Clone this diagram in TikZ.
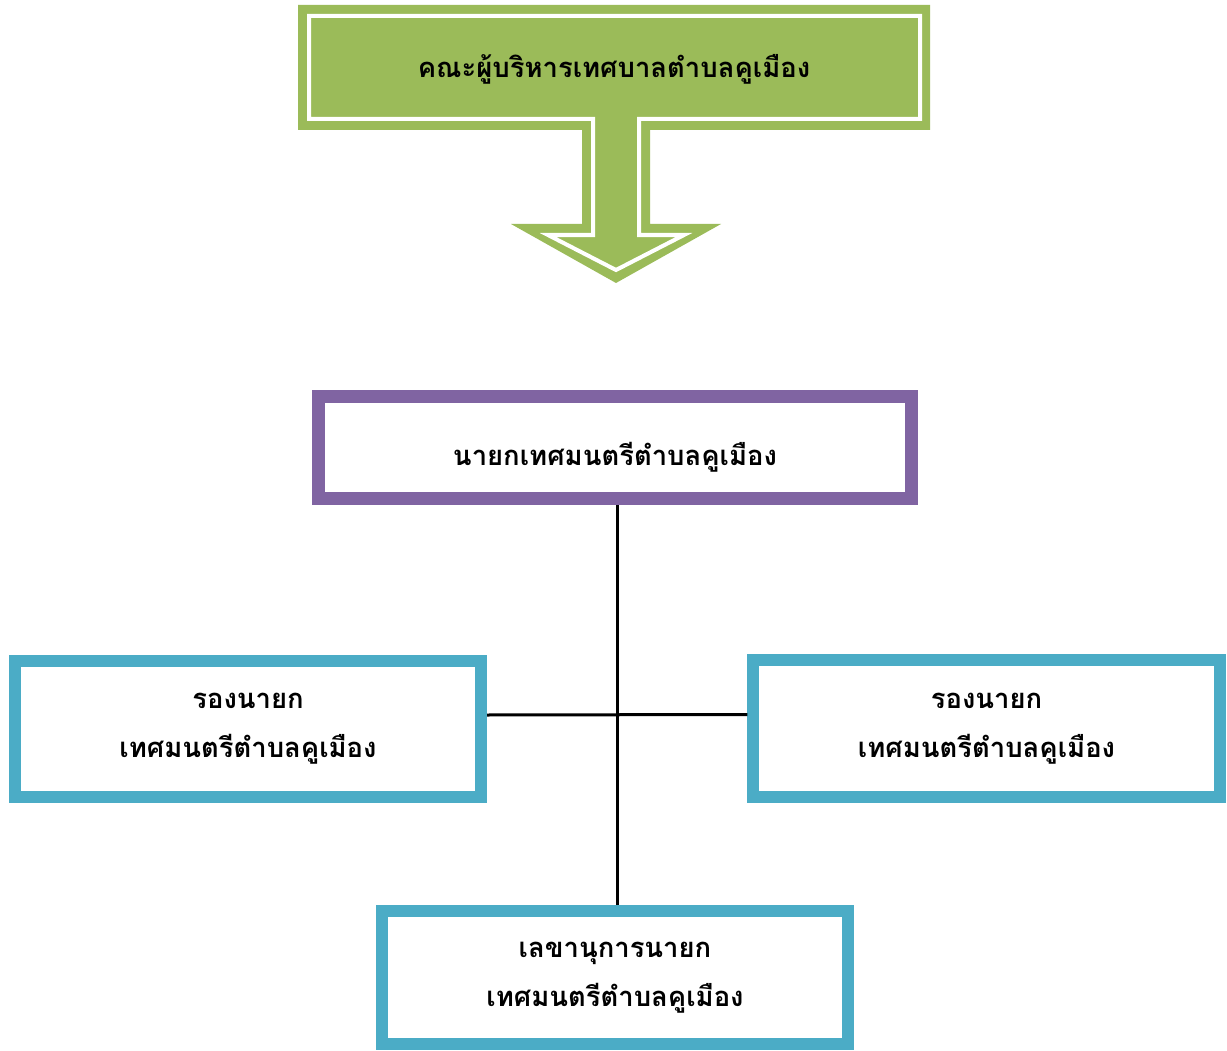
\documentclass[tikz,border=0pt]{standalone}
\usepackage{fontspec}
\newfontfamily\thaifont[Script=Thai]{Loma}
\definecolor{boardGreen}{RGB}{155,187,89}
\definecolor{mayorPurple}{RGB}{128,100,162}
\definecolor{staffBlue}{RGB}{75,172,198}

\begin{document}
\begin{tikzpicture}[x=0.025cm, y=-0.025cm,
		every node/.style={align=center, font=\thaifont\bfseries\fontsize{19.5}{35}\selectfont},
		purpleBox/.style={
				draw=mayorPurple, line width=0.325cm, fill=white,
				minimum width=14.825cm, minimum height=2.55cm,
				inner sep=0pt
			},
		blueBox/.style={
				draw=staffBlue, line width=0.3cm, fill=white,
				minimum width=11.65cm, minimum height=3.4cm,
				inner sep=0pt
			},
		link/.style={line width=0.075cm, black}
	]
	\useasboundingbox (0,0) rectangle (1227,1050);

	% Board arrow on top
	\fill[boardGreen] (298,5) -- (930,5) -- (930,130) -- (650,130) -- (650,224) -- (721,224)
	-- (616,283) -- (511,224) -- (582,224) -- (582,130) -- (298,130) -- cycle;
	\draw[white, line width=0.1cm, line join=miter]
	(309,16) -- (920,16) -- (920,119) -- (639,119) -- (639,235) -- (684,235)
	-- (616,270) -- (548,235) -- (593,235) -- (593,119) -- (309,119) -- cycle;
	\node (boardText) at (614,69) {คณะผู้บริหารเทศบาลตำบลคูเมือง};

	% Mayor and the staff under
	\node[purpleBox] (mayorBox) at (615,447.5) {};
	\node (mayorText) at ([yshift=-0.25cm]mayorBox.center) {นายกเทศมนตรีตำบลคูเมือง};
	\node[blueBox] (deputyLeft) at (248,729) {รองนายก\\เทศมนตรีตำบลคูเมือง};
	\node[blueBox] (deputyRight) at (986.5,728.5) {รองนายก\\เทศมนตรีตำบลคูเมือง};
	\node[blueBox, minimum height=3.325cm] (secretaryBox) at (615,977.5) {เลขานุการนายก\\เทศมนตรีตำบลคูเมือง};

	\draw[link] ([xshift=0.05cm]mayorBox.south) -- ([xshift=0.05cm]secretaryBox.north);
	\draw[link] ([yshift=0.35cm]deputyLeft.east) -- ([yshift=0.35cm]deputyRight.west);
\end{tikzpicture}
\end{document}
